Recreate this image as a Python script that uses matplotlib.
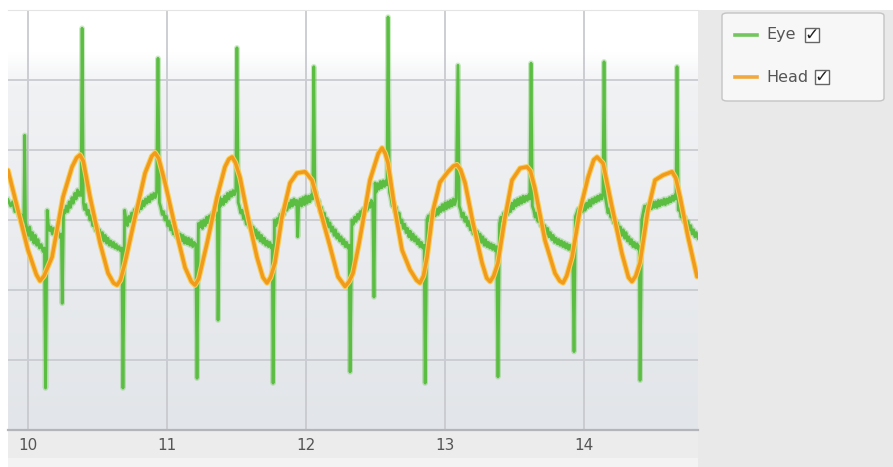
import numpy as np
import matplotlib.pyplot as plt
from matplotlib.patches import Rectangle, FancyBboxPatch
from matplotlib.lines import Line2D
from matplotlib.colors import LinearSegmentedColormap

# Head position trace (time in s, position)
head_pts = [
    (9.856, 0.71), (9.928, 0.14), (10.000, -0.43), (10.060, -0.78), (10.086, -0.87),
    (10.115, -0.80), (10.173, -0.53), (10.252, 0.33), (10.317, 0.76), (10.350, 0.89),
    (10.374, 0.93), (10.398, 0.84), (10.446, 0.33), (10.518, -0.33), (10.576, -0.76),
    (10.615, -0.90), (10.640, -0.93), (10.665, -0.86), (10.698, -0.61), (10.770, 0.04),
    (10.842, 0.67), (10.890, 0.91), (10.914, 0.96), (10.940, 0.88), (10.986, 0.53),
    (11.058, -0.10), (11.130, -0.68), (11.175, -0.88), (11.201, -0.93), (11.228, -0.84),
    (11.288, -0.33), (11.360, 0.33), (11.417, 0.76), (11.445, 0.87), (11.468, 0.90),
    (11.492, 0.82), (11.525, 0.61), (11.583, 0.04), (11.647, -0.53), (11.690, -0.82),
    (11.719, -0.90), (11.745, -0.82), (11.777, -0.61), (11.827, 0.04), (11.885, 0.53),
    (11.935, 0.67), (11.993, 0.69), (12.043, 0.57), (12.101, 0.14), (12.173, -0.38),
    (12.230, -0.81), (12.281, -0.95), (12.310, -0.88), (12.338, -0.76), (12.380, -0.35),
    (12.420, 0.10), (12.460, 0.57), (12.520, 0.95), (12.547, 1.03), (12.570, 0.95),
    (12.590, 0.81), (12.640, 0.14), (12.691, -0.43), (12.748, -0.71), (12.795, -0.86),
    (12.820, -0.90), (12.845, -0.80), (12.871, -0.53), (12.914, 0.14), (12.964, 0.54),
    (13.022, 0.69), (13.060, 0.77), (13.086, 0.79), (13.112, 0.72), (13.144, 0.53),
    (13.201, -0.04), (13.266, -0.61), (13.300, -0.83), (13.324, -0.88), (13.350, -0.80),
    (13.381, -0.61), (13.432, 0.04), (13.482, 0.57), (13.540, 0.74), (13.590, 0.76),
    (13.615, 0.70), (13.647, 0.45), (13.719, -0.29), (13.791, -0.76), (13.825, -0.87),
    (13.849, -0.90), (13.875, -0.80), (13.914, -0.53), (13.971, 0.14), (14.029, 0.61),
    (14.070, 0.86), (14.094, 0.90), (14.137, 0.81), (14.201, 0.19), (14.273, -0.48),
    (14.320, -0.82), (14.345, -0.88), (14.372, -0.80), (14.403, -0.61), (14.460, 0.14),
    (14.511, 0.57), (14.568, 0.64), (14.633, 0.69), (14.660, 0.60), (14.691, 0.33),
    (14.748, -0.24), (14.813, -0.81),
]
head_t = [p[0] for p in head_pts]
head_v = [p[1] for p in head_pts]

# Eye position trace, read point by point (incl. saccade spikes)
eye_pts = [
    (9.856, 0.29), (9.875, 0.20), (9.890, 0.26), (9.905, 0.12), (9.920, 0.18), (9.935, 0.05),
    (9.950, 0.08), (9.962, -0.02), (9.970, 0.00), (9.976, 1.21), (9.982, -0.04),
    (9.992, -0.12), (10.002, -0.22), (10.012, -0.10), (10.022, -0.28), (10.032, -0.18),
    (10.042, -0.33), (10.052, -0.22), (10.062, -0.36), (10.072, -0.28), (10.082, -0.40),
    (10.095, -0.35), (10.108, -0.45), (10.118, -0.40), (10.126, -2.40), (10.138, 0.14),
    (10.145, -0.05), (10.155, -0.15), (10.165, -0.10), (10.175, -0.20), (10.185, -0.12),
    (10.200, -0.22), (10.215, -0.15), (10.232, -0.25), (10.240, -0.20), (10.246, -1.19),
    (10.256, 0.14), (10.266, 0.10), (10.276, 0.20), (10.286, 0.12), (10.296, 0.26),
    (10.306, 0.18), (10.316, 0.32), (10.326, 0.24), (10.336, 0.38), (10.346, 0.30),
    (10.356, 0.43), (10.366, 0.35), (10.376, 0.40), (10.382, 0.35), (10.389, 2.74),
    (10.398, 0.25), (10.405, 0.15), (10.415, 0.22), (10.425, 0.08), (10.435, 0.14),
    (10.445, 0.00), (10.455, 0.06), (10.465, -0.08), (10.475, -0.02), (10.485, -0.15),
    (10.495, -0.08), (10.505, -0.20), (10.515, -0.14), (10.525, -0.26), (10.535, -0.18),
    (10.545, -0.30), (10.555, -0.22), (10.565, -0.33), (10.575, -0.26), (10.585, -0.36),
    (10.595, -0.30), (10.605, -0.38), (10.615, -0.32), (10.625, -0.40), (10.635, -0.35),
    (10.645, -0.42), (10.655, -0.38), (10.665, -0.44), (10.675, -0.40), (10.683, -2.40),
    (10.695, 0.14), (10.705, 0.00), (10.715, -0.08), (10.725, 0.05), (10.735, -0.02),
    (10.745, 0.10), (10.755, 0.04), (10.765, 0.15), (10.775, 0.08), (10.785, 0.20),
    (10.795, 0.12), (10.805, 0.24), (10.815, 0.16), (10.825, 0.27), (10.835, 0.20),
    (10.845, 0.30), (10.855, 0.24), (10.865, 0.33), (10.875, 0.26), (10.885, 0.36),
    (10.895, 0.30), (10.905, 0.38), (10.915, 0.32), (10.925, 0.40), (10.935, 2.31),
    (10.945, 0.25), (10.955, 0.18), (10.965, 0.08), (10.975, 0.12), (10.985, 0.00),
    (10.995, 0.05), (11.005, -0.08), (11.015, -0.02), (11.025, -0.14), (11.035, -0.08),
    (11.045, -0.20), (11.055, -0.12), (11.065, -0.24), (11.075, -0.16), (11.085, -0.28),
    (11.095, -0.20), (11.105, -0.30), (11.115, -0.22), (11.125, -0.33), (11.135, -0.25),
    (11.145, -0.34), (11.155, -0.26), (11.165, -0.36), (11.175, -0.28), (11.185, -0.38),
    (11.195, -0.32), (11.207, -0.35), (11.216, -2.26), (11.226, -0.05), (11.235, -0.10),
    (11.245, -0.02), (11.255, -0.12), (11.265, 0.00), (11.275, -0.08), (11.285, 0.04),
    (11.295, -0.04), (11.305, 0.06), (11.315, 0.00), (11.325, 0.10), (11.335, 0.04),
    (11.345, 0.12), (11.355, 0.08), (11.362, 0.10), (11.367, -1.43), (11.377, 0.33),
    (11.385, 0.20), (11.395, 0.30), (11.405, 0.22), (11.415, 0.34), (11.425, 0.26),
    (11.435, 0.38), (11.445, 0.30), (11.455, 0.40), (11.465, 0.34), (11.475, 0.42),
    (11.485, 0.36), (11.495, 0.44), (11.503, 2.46), (11.512, 0.25), (11.520, 0.20),
    (11.530, 0.10), (11.540, 0.14), (11.550, 0.02), (11.560, 0.06), (11.570, -0.06),
    (11.580, 0.00), (11.590, -0.10), (11.600, -0.04), (11.610, -0.16), (11.620, -0.10),
    (11.630, -0.22), (11.640, -0.14), (11.650, -0.26), (11.660, -0.18), (11.670, -0.30),
    (11.680, -0.22), (11.690, -0.33), (11.700, -0.26), (11.710, -0.36), (11.720, -0.30),
    (11.730, -0.38), (11.740, -0.32), (11.750, -0.40), (11.757, -0.36), (11.763, -2.33),
    (11.773, 0.00), (11.783, -0.08), (11.793, 0.02), (11.803, -0.04), (11.813, 0.08),
    (11.823, 0.02), (11.833, 0.14), (11.843, 0.08), (11.853, 0.20), (11.863, 0.14),
    (11.873, 0.24), (11.883, 0.18), (11.893, 0.28), (11.903, 0.20), (11.913, 0.30),
    (11.923, 0.22), (11.933, 0.28), (11.940, -0.24), (11.948, 0.24), (11.958, 0.30),
    (11.968, 0.20), (11.978, 0.32), (11.988, 0.22), (11.998, 0.34), (12.008, 0.24),
    (12.018, 0.34), (12.028, 0.26), (12.038, 0.36), (12.048, 0.30), (12.056, 2.19),
    (12.064, 0.35), (12.072, 0.40), (12.082, 0.22), (12.092, 0.28), (12.102, 0.12),
    (12.112, 0.18), (12.122, 0.04), (12.132, 0.10), (12.142, -0.04), (12.152, 0.02),
    (12.162, -0.10), (12.172, -0.04), (12.182, -0.16), (12.192, -0.10), (12.202, -0.22),
    (12.212, -0.14), (12.222, -0.26), (12.232, -0.20), (12.242, -0.30), (12.252, -0.24),
    (12.262, -0.34), (12.272, -0.28), (12.282, -0.38), (12.292, -0.32), (12.302, -0.40),
    (12.310, -0.36), (12.317, -2.17), (12.330, 0.00), (12.340, -0.06), (12.350, 0.04),
    (12.360, -0.02), (12.370, 0.08), (12.380, 0.02), (12.390, 0.12), (12.400, 0.06),
    (12.410, 0.16), (12.420, 0.10), (12.430, 0.20), (12.440, 0.14), (12.450, 0.24),
    (12.460, 0.18), (12.470, 0.28), (12.480, 0.22), (12.489, -1.10), (12.497, 0.53),
    (12.505, 0.40), (12.515, 0.52), (12.525, 0.44), (12.535, 0.55), (12.545, 0.46),
    (12.555, 0.56), (12.565, 0.48), (12.575, 0.56), (12.583, 0.50), (12.590, 2.90),
    (12.600, 0.40), (12.610, 0.32), (12.620, 0.20), (12.630, 0.26), (12.640, 0.12),
    (12.650, 0.18), (12.660, 0.04), (12.670, 0.10), (12.680, -0.04), (12.690, 0.00),
    (12.700, -0.12), (12.710, -0.06), (12.720, -0.18), (12.730, -0.12), (12.740, -0.24),
    (12.750, -0.16), (12.760, -0.28), (12.770, -0.20), (12.780, -0.30), (12.790, -0.24),
    (12.800, -0.34), (12.810, -0.28), (12.820, -0.38), (12.830, -0.32), (12.840, -0.40),
    (12.850, -0.36), (12.857, -2.33), (12.870, 0.00), (12.880, 0.06), (12.890, -0.02),
    (12.900, 0.10), (12.910, 0.02), (12.920, 0.12), (12.930, 0.06), (12.940, 0.16),
    (12.950, 0.08), (12.960, 0.18), (12.970, 0.12), (12.980, 0.22), (12.990, 0.14),
    (13.000, 0.24), (13.010, 0.16), (13.020, 0.26), (13.030, 0.18), (13.040, 0.28),
    (13.050, 0.20), (13.060, 0.30), (13.070, 0.22), (13.080, 0.30), (13.093, 2.21),
    (13.102, 0.20), (13.112, 0.14), (13.122, 0.04), (13.132, 0.10), (13.142, -0.02),
    (13.152, 0.04), (13.162, -0.08), (13.172, -0.02), (13.182, -0.14), (13.192, -0.08),
    (13.202, -0.20), (13.212, -0.12), (13.222, -0.24), (13.232, -0.16), (13.242, -0.28),
    (13.252, -0.20), (13.262, -0.32), (13.272, -0.24), (13.282, -0.36), (13.292, -0.28),
    (13.302, -0.38), (13.312, -0.32), (13.322, -0.40), (13.332, -0.34), (13.342, -0.42),
    (13.352, -0.36), (13.362, -0.44), (13.372, -0.38), (13.381, -2.24), (13.392, -0.05),
    (13.402, 0.04), (13.412, -0.02), (13.422, 0.10), (13.432, 0.04), (13.442, 0.14),
    (13.452, 0.08), (13.462, 0.20), (13.472, 0.12), (13.482, 0.24), (13.492, 0.16),
    (13.502, 0.28), (13.512, 0.20), (13.522, 0.30), (13.532, 0.22), (13.542, 0.32),
    (13.552, 0.24), (13.562, 0.34), (13.572, 0.26), (13.582, 0.34), (13.592, 0.28),
    (13.602, 0.36), (13.610, 0.30), (13.619, 2.24), (13.628, 0.20), (13.638, 0.14),
    (13.648, 0.04), (13.658, 0.10), (13.668, -0.02), (13.678, 0.04), (13.688, -0.08),
    (13.698, -0.02), (13.708, -0.14), (13.718, -0.08), (13.728, -0.20), (13.738, -0.12),
    (13.748, -0.24), (13.758, -0.18), (13.768, -0.28), (13.778, -0.22), (13.788, -0.32),
    (13.798, -0.26), (13.808, -0.34), (13.818, -0.28), (13.828, -0.36), (13.838, -0.30),
    (13.848, -0.38), (13.858, -0.32), (13.868, -0.40), (13.878, -0.34), (13.888, -0.42),
    (13.898, -0.36), (13.908, -0.44), (13.918, -0.40), (13.928, -1.88), (13.938, 0.05),
    (13.948, 0.10), (13.958, 0.16), (13.968, 0.08), (13.978, 0.18), (13.988, 0.12),
    (13.998, 0.22), (14.008, 0.14), (14.018, 0.24), (14.028, 0.18), (14.038, 0.28),
    (14.048, 0.20), (14.058, 0.30), (14.068, 0.24), (14.078, 0.32), (14.088, 0.26),
    (14.098, 0.34), (14.108, 0.28), (14.118, 0.36), (14.128, 0.30), (14.136, 0.38),
    (14.144, 2.26), (14.153, 0.33), (14.162, 0.22), (14.172, 0.10), (14.182, 0.16),
    (14.192, 0.04), (14.202, 0.10), (14.212, -0.04), (14.222, 0.02), (14.232, -0.10),
    (14.242, -0.04), (14.252, -0.16), (14.262, -0.10), (14.272, -0.22), (14.282, -0.14),
    (14.292, -0.26), (14.302, -0.18), (14.312, -0.30), (14.322, -0.24), (14.332, -0.34),
    (14.342, -0.28), (14.352, -0.38), (14.362, -0.32), (14.372, -0.40), (14.382, -0.34),
    (14.392, -0.42), (14.398, -0.38), (14.403, -2.29), (14.415, 0.00), (14.425, 0.10),
    (14.435, 0.20), (14.445, 0.12), (14.455, 0.22), (14.465, 0.14), (14.475, 0.24),
    (14.485, 0.16), (14.495, 0.26), (14.505, 0.18), (14.515, 0.26), (14.525, 0.18),
    (14.535, 0.28), (14.545, 0.20), (14.555, 0.28), (14.565, 0.22), (14.575, 0.30),
    (14.585, 0.22), (14.595, 0.30), (14.605, 0.24), (14.615, 0.32), (14.625, 0.26),
    (14.635, 0.34), (14.645, 0.28), (14.655, 0.36), (14.662, 0.30), (14.669, 2.19),
    (14.678, 0.14), (14.688, 0.16), (14.698, 0.04), (14.708, 0.10), (14.718, -0.02),
    (14.728, 0.04), (14.738, -0.08), (14.748, -0.02), (14.758, -0.14), (14.768, -0.08),
    (14.778, -0.20), (14.788, -0.14), (14.798, -0.24), (14.808, -0.18), (14.820, -0.26),
]
eye_t = [p[0] for p in eye_pts]
eye_v = [p[1] for p in eye_pts]

x_ticks = [10, 11, 12, 13, 14]
y_grid = [-2, -1, 0, 1, 2]
series_names = ["Eye", "Head"]

GREEN = "#5cbd43"
ORANGE = "#f19a1c"

W, H = 893, 467
fig = plt.figure(figsize=(W / 100, H / 100), dpi=100)
fig.patch.set_facecolor("white")

# grey strip under the plot and the side panel
fig.add_artist(Rectangle((8 / W, 0), (698 - 8) / W, 37 / H, transform=fig.transFigure,
                         facecolor="#ececec", edgecolor="none", zorder=0))
fig.add_artist(Rectangle((8 / W, 0), (698 - 8) / W, 9 / H, transform=fig.transFigure,
                         facecolor="#f3f3f3", edgecolor="none", zorder=0))
fig.add_artist(Rectangle((698 / W, 0), (W - 698) / W, 457 / H, transform=fig.transFigure,
                         facecolor="#e9e9e9", edgecolor="none", zorder=0))

ax = fig.add_axes([8 / W, 37 / H, 690 / W, 420 / H])
ax.set_xlim(9.856, 14.82)
ax.set_ylim(-3, 3)

# vertical background gradient
grad_cols = ["#ffffff", "#ffffff", "#f1f2f4", "#e9ebee", "#e2e5e9"]
cmap = LinearSegmentedColormap.from_list("bg", list(zip([0, 0.1, 0.18, 0.6, 1.0], grad_cols)))
ax.imshow(np.linspace(0, 1, 256).reshape(-1, 1), cmap=cmap, extent=[0, 1, 0, 1],
          transform=ax.transAxes, aspect="auto", zorder=0)

for x in x_ticks:
    ax.axvline(x, color="#c9cacf", lw=1.3, zorder=1)
for y in y_grid:
    ax.axhline(y, color="#cbccd1", lw=1.3, zorder=1)

ax.plot(eye_t, eye_v, color=GREEN, lw=4.0, alpha=0.3, zorder=2, solid_joinstyle="round")
ax.plot(eye_t, eye_v, color=GREEN, lw=2.0, zorder=3, solid_joinstyle="round")
ax.plot(head_t, head_v, color="#f8cf5a", lw=4.0, zorder=4, solid_capstyle="round",
        solid_joinstyle="round")
ax.plot(head_t, head_v, color=ORANGE, lw=2.5, zorder=5, solid_capstyle="round",
        solid_joinstyle="round")

ax.set_xticks(x_ticks)
ax.set_xticklabels([str(x) for x in x_ticks], fontsize=11, color="#555555")
ax.tick_params(axis="x", length=0, pad=6)
ax.set_yticks([])
for s in ["left", "right"]:
    ax.spines[s].set_visible(False)
ax.spines["top"].set_color("#e4e4e4")
ax.spines["bottom"].set_color("#b3b5ba")
ax.spines["bottom"].set_linewidth(1.6)

# legend panel with check boxes
fig.add_artist(FancyBboxPatch((722 / W, (H - 101) / H), 162 / W, 88 / H,
                              boxstyle="round,pad=0,rounding_size=0.006",
                              transform=fig.transFigure, facecolor="#f7f7f7",
                              edgecolor="#c4c4c4", lw=1.0, zorder=2))
rows = [(series_names[0], GREEN, 35, 805), (series_names[1], ORANGE, 77, 815)]
for name, col, yy, bx in rows:
    yf = (H - yy) / H
    fig.add_artist(Line2D([735 / W, 757 / W], [yf, yf], color=col, lw=2.6,
                          transform=fig.transFigure, alpha=0.85, zorder=3))
    fig.text(766 / W, yf, name, fontsize=11.5, color="#555555", va="center", ha="left", zorder=3)
    fig.add_artist(Rectangle((bx / W, (H - yy - 7) / H), 14 / W, 14 / H,
                             transform=fig.transFigure, facecolor="white",
                             edgecolor="#666666", lw=1.0, zorder=3))
    fig.text((bx + 7) / W, yf, "\u2713", fontsize=12.5, color="#222222", ha="center",
             va="center", fontweight="bold", zorder=4)

fig.savefig("out.png", dpi=100)
